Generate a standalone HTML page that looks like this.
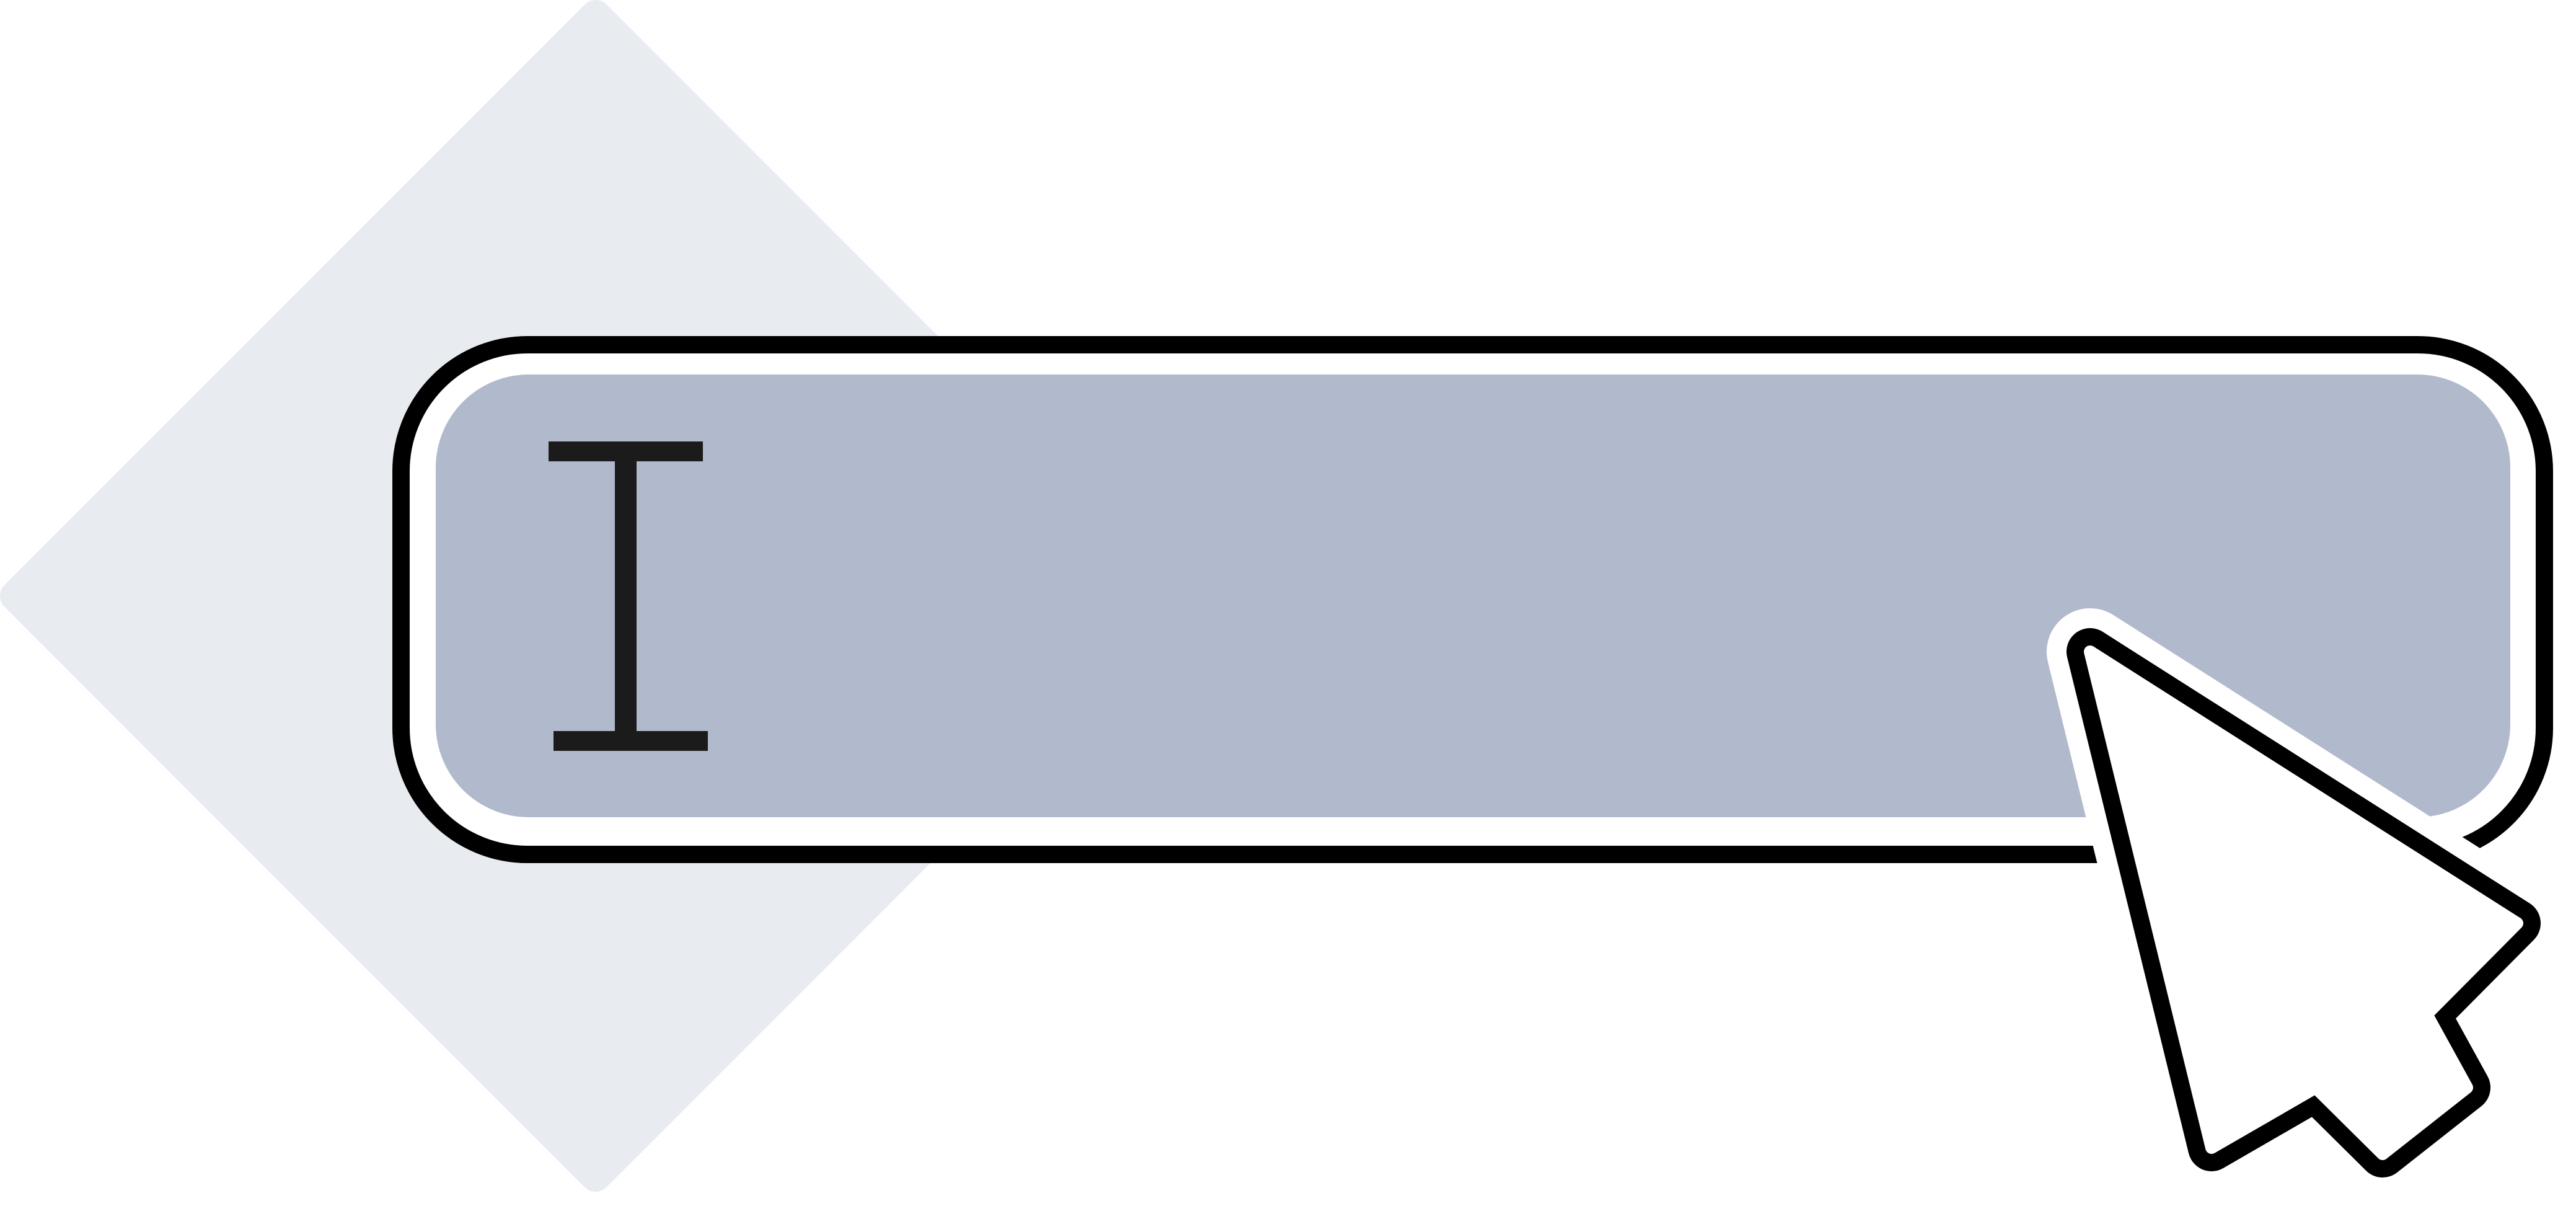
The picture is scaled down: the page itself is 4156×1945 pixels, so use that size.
<!DOCTYPE html>
<html>
<head>
<meta charset="utf-8">
<style>
  html,body{margin:0;padding:0;background:#fff;}
  body{width:4156px;height:1945px;overflow:hidden;}
  svg{display:block;}
</style>
</head>
<body>
<svg width="4156" height="1945" viewBox="0 0 4156 1945" xmlns="http://www.w3.org/2000/svg">
  <!-- background diamond -->
  <polygon points="961,25 1897,961 961,1897 25,961" fill="#e8ebf0" stroke="#e8ebf0" stroke-width="50" stroke-linejoin="round"/>
  <!-- outer rounded bar -->
  <rect x="647" y="556" width="3458" height="822" rx="204" ry="204" fill="#ffffff" stroke="#000000" stroke-width="28"/>
  <!-- inner fill -->
  <rect x="703" y="604" width="3347" height="714" rx="150" ry="150" fill="#b1b9cc"/>
  <!-- I-beam -->
  <rect x="885" y="712" width="249" height="32" fill="#1b1b1b"/>
  <rect x="992" y="744" width="35" height="435" fill="#1b1b1b"/>
  <rect x="893" y="1179" width="249" height="32" fill="#1b1b1b"/>
  <!-- cursor halo -->
  <path d="M3372,1051 L4061,1489 L3915,1636 L3980,1754 L3844,1861 L3736,1754 L3568,1851 Z" fill="#ffffff" stroke="#ffffff" stroke-width="140" stroke-linejoin="round"/>
  <!-- cursor black outline -->
  <path d="M3372,1051 L4061,1489 L3915,1636 L3980,1754 L3844,1861 L3736,1754 L3568,1851 Z" fill="#000000" stroke="#000000" stroke-width="76" stroke-linejoin="round"/>
  <!-- cursor white interior -->
  <path d="M3372,1051 L4061,1489 L3915,1636 L3980,1754 L3844,1861 L3736,1754 L3568,1851 Z" fill="#ffffff" stroke="#ffffff" stroke-width="20" stroke-linejoin="round"/>
</svg>
</body>
</html>
